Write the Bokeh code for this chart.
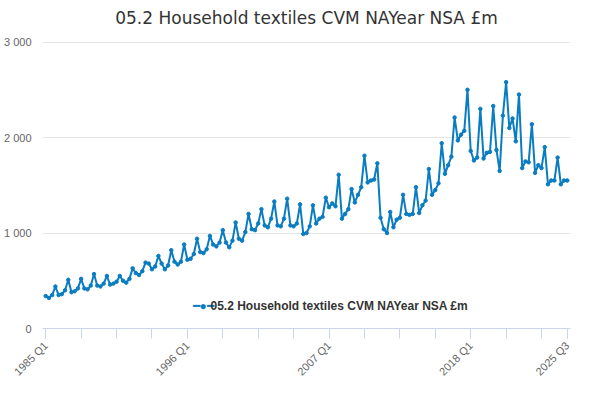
from bokeh.plotting import figure
from bokeh.models import FixedTicker, Label
from bokeh.embed import file_html
from bokeh.resources import INLINE
import math

years = list(range(1985, 2026))
values = [
340,320,350,440, 350,360,400,510, 380,390,420,520, 420,410,450,570,
450,440,470,550, 460,470,490,550, 500,480,520,630, 580,560,600,690,
680,620,650,760, 680,620,660,820, 700,670,700,880, 720,730,780,940,
800,790,830,970, 880,860,900,1030, 900,850,920,1110, 940,920,1010,1200,
1040,1030,1100,1250, 1080,1060,1150,1330, 1080,1070,1150,1360, 1080,1070,1100,1300,
990,1000,1070,1290, 1100,1150,1170,1370, 1270,1310,1280,1610, 1150,1200,1250,1460,
1320,1400,1480,1810, 1530,1550,1560,1730, 1160,1040,1000,1220, 1060,1140,1160,1400,
1200,1190,1200,1480, 1210,1290,1340,1670, 1400,1450,1520,1940, 1620,1710,1800,2210,
1970,2030,2070,2500, 1860,1760,1790,2300, 1780,1840,1850,2330, 1870,1650,2230,2580,
2100,2200,1960,2450, 1680,1750,1740,2140, 1630,1710,1680,1900, 1510,1550,1550,1790,
1510,1550,1550]
labels = [f"{y} Q{q}" for y in years for q in range(1, 5)][:len(values)]
x = list(range(len(values)))
label_idx = [0, 44, 88, 132, len(values) - 1]
yticks = [0, 1000, 2000, 3000]
ytick_labels = ["0", "1 000", "2 000", "3 000"]
series_name = "05.2 Household textiles CVM NAYear NSA £m"

W, H = 584, 384
p = figure(width=W, height=H, output_backend="svg", toolbar_location=None,
           x_range=(-1, len(values)), y_range=(0, 3100),
           min_border_left=10, min_border_right=14, min_border_bottom=55, min_border_top=10)
p.title.text = series_name
p.title.align = "center"
p.title.text_font = "DejaVu Sans"
p.title.text_font_size = "17px"
p.title.text_font_style = "normal"
p.title.text_color = "#333333"

col = "#0a7cc1"
p.line(x, values, line_color=col, line_width=2)
p.scatter(x, values, size=3.5, color=col)

p.xaxis.ticker = FixedTicker(ticks=label_idx, minor_ticks=list(range(0, len(values), 11)) + [len(values)-1])
p.xaxis.major_label_overrides = {i: labels[i] for i in label_idx}
p.xaxis.major_label_orientation = math.pi / 4
p.xaxis.major_label_text_color = "#666666"
p.xaxis.major_label_text_font_size = "11px"
p.xaxis.axis_line_color = "#ccd6eb"
p.xaxis.major_tick_line_color = "#ccd6eb"
p.xaxis.minor_tick_line_color = "#ccd6eb"
p.xaxis.major_tick_out = 10
p.xaxis.minor_tick_out = 10
p.xaxis.major_tick_in = 0
p.xaxis.minor_tick_in = 0
p.xgrid.grid_line_color = None

p.yaxis.ticker = FixedTicker(ticks=yticks)
p.yaxis.major_label_overrides = dict(zip(yticks, ytick_labels))
p.yaxis.axis_line_color = None
p.yaxis.major_tick_line_color = None
p.yaxis.minor_tick_line_color = None
p.yaxis.major_label_text_color = "#666666"
p.yaxis.major_label_text_font_size = "11px"
p.ygrid.grid_line_color = "#e6e6e6"
p.outline_line_color = None

p.add_layout(Label(x=150, y=16, x_units="screen", y_units="screen", text="━●━",
                   text_font_size="12px", text_color=col))
p.add_layout(Label(x=168, y=16, x_units="screen", y_units="screen", text=series_name,
                   text_font_size="12px", text_font_style="bold", text_color="#333333"))
p.add_layout(Label(x=W - 14, y=-6, x_units="screen", y_units="screen", text="Source:",
                   text_align="right", text_font_size="12px", text_color="#666666"))

open("out.html", "w").write(file_html(p, INLINE))
